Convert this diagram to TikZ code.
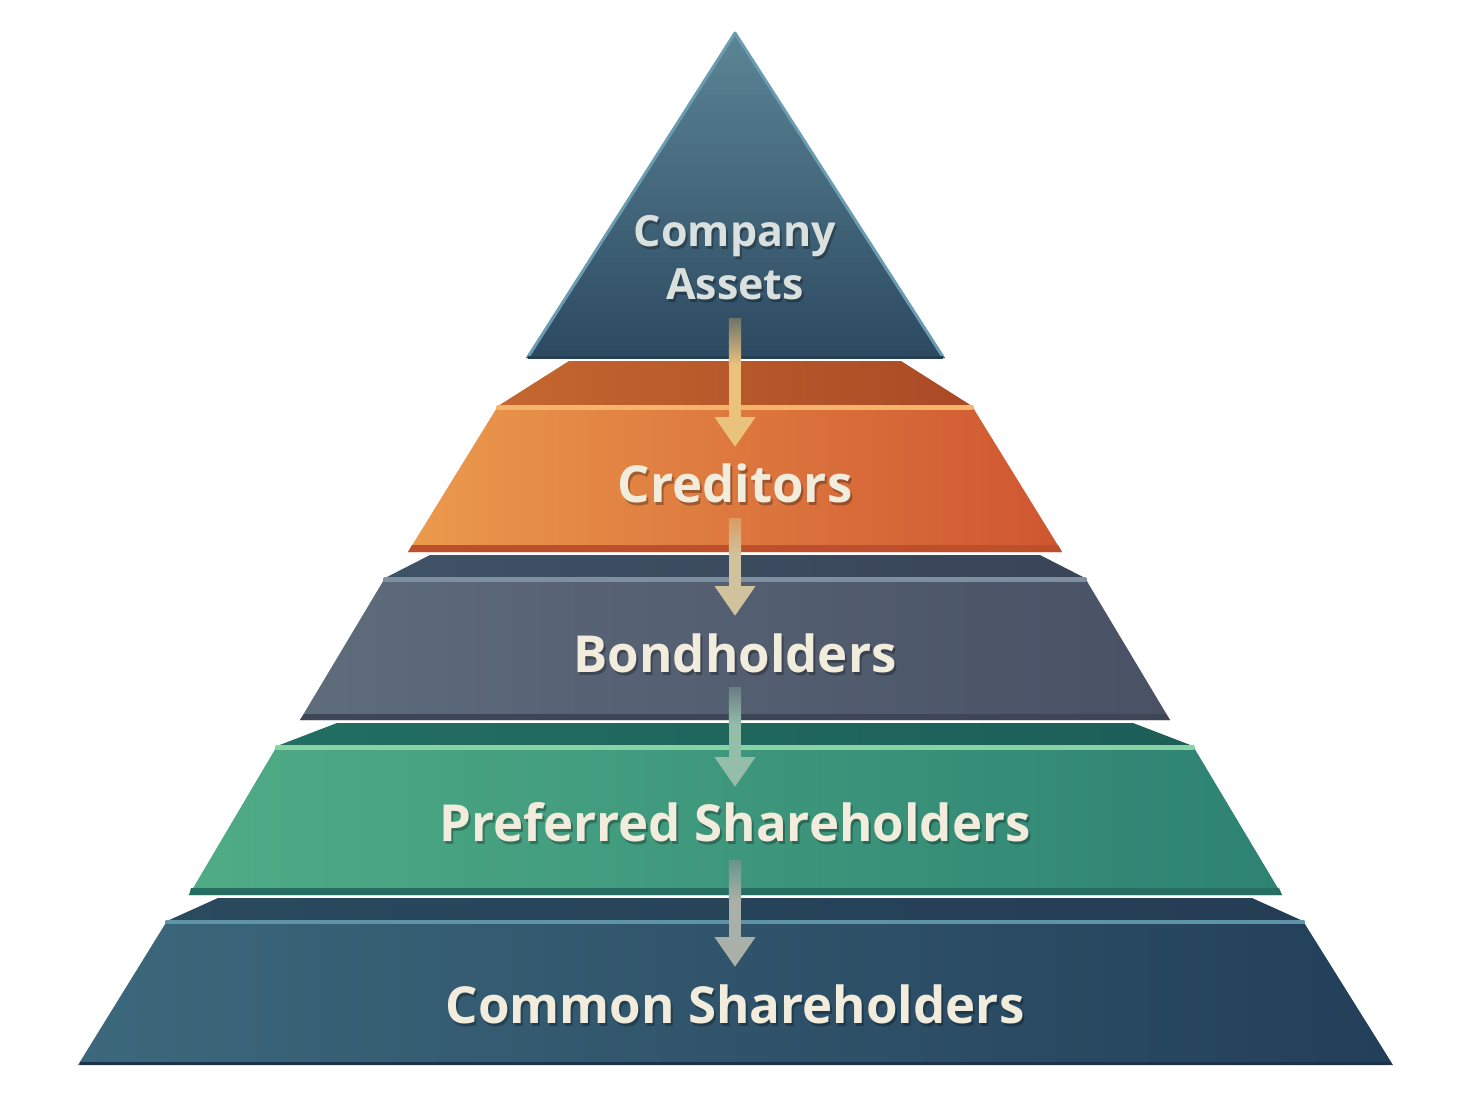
\documentclass[tikz,border=0pt]{standalone}
\usepackage{fontspec}
\setmainfont{Open Sans}
\usetikzlibrary{arrows.meta}
\definecolor{triTop}{HTML}{5B8595}
\definecolor{triBot}{HTML}{2C4961}
\definecolor{triEdge}{HTML}{6A9DB2}
\definecolor{credBackL}{HTML}{C4672F}
\definecolor{credBackR}{HTML}{A94A26}
\definecolor{credL}{HTML}{EB9A4D}
\definecolor{credR}{HTML}{CF5630}
\definecolor{credHi}{HTML}{F5B46A}
\definecolor{bondBackL}{HTML}{3E5266}
\definecolor{bondBackR}{HTML}{394457}
\definecolor{bondL}{HTML}{5E6C7C}
\definecolor{bondR}{HTML}{495165}
\definecolor{bondHi}{HTML}{7D8FA0}
\definecolor{prefBackL}{HTML}{226E62}
\definecolor{prefBackR}{HTML}{1C5F58}
\definecolor{prefL}{HTML}{4FAC86}
\definecolor{prefR}{HTML}{2D8272}
\definecolor{prefHi}{HTML}{88D2A4}
\definecolor{comBackL}{HTML}{2A4A5E}
\definecolor{comBackR}{HTML}{243D54}
\definecolor{comL}{HTML}{3C687C}
\definecolor{comR}{HTML}{233F59}
\definecolor{comHi}{HTML}{5E93A8}
\definecolor{txt}{HTML}{F2ECDC}
\definecolor{txtTop}{HTML}{D9E0DE}
\definecolor{arA}{HTML}{EAC27C}
\definecolor{arB}{HTML}{D0C29C}
\definecolor{arC}{HTML}{94BDAA}
\definecolor{arD}{HTML}{A8B0A8}
\tikzset{
  lbl/.style={text=txt, font=\bfseries\fontsize{25.5pt}{30pt}\selectfont, inner sep=0pt},
  lblshadow/.style={text=black, opacity=0.28, font=\bfseries\fontsize{25.5pt}{30pt}\selectfont, inner sep=0pt},
  toplbl/.style={text=txtTop, font=\bfseries\fontsize{21.5pt}{26.5pt}\selectfont, inner sep=0pt, align=center},
  topshadow/.style={text=black, opacity=0.28, font=\bfseries\fontsize{21.5pt}{26.5pt}\selectfont, inner sep=0pt, align=center},
  flow/.style={line width=6.2pt, -{Triangle[width=19.5pt,length=15pt]}},
  hi/.style={line width=2.2pt, line cap=round}
}
\begin{document}
\begin{tikzpicture}[x=0.5pt,y=-0.5pt]
\useasboundingbox (0,0) rectangle (1472,1104);
% ---- Common shareholders
\shade[left color=comBackL, right color=comBackR] (218,898) -- (1252,898) -- (1303,921) -- (167,921) -- cycle;
\shade[left color=comL, right color=comR] (167,921) -- (1303,921) -- (1393,1065) -- (78,1065) -- cycle;
\draw[comHi, hi] (167,922) -- (1303,922);
\draw[comR!80!black, line width=1.5pt] (80,1063) -- (1391,1063);
% ---- Preferred shareholders
\shade[left color=prefBackL, right color=prefBackR] (337,723) -- (1133,723) -- (1193,746) -- (277,746) -- cycle;
\shade[left color=prefL, right color=prefR] (277,746) -- (1193,746) -- (1282,895) -- (189,895) -- cycle;
\draw[prefHi, hi] (277,747.5) -- (1193,747.5);
\fill[prefR!85!black] (191,888) -- (1279,888) -- (1282,895) -- (189,895) -- cycle;
% ---- Bondholders
\shade[left color=bondBackL, right color=bondBackR] (430,555) -- (1040,555) -- (1085,578) -- (385,578) -- cycle;
\shade[left color=bondL, right color=bondR] (385,578) -- (1085,578) -- (1170,720) -- (300,720) -- cycle;
\draw[bondHi, hi] (385,579.5) -- (1085,579.5);
\fill[bondR!85!black] (304,714) -- (1166,714) -- (1170,720) -- (300,720) -- cycle;
% ---- Creditors
\shade[left color=credBackL, right color=credBackR] (569,361) -- (901,361) -- (972,406) -- (498,406) -- cycle;
\shade[left color=credL, right color=credR] (498,406) -- (972,406) -- (1062,552) -- (408,552) -- cycle;
\draw[credHi, hi] (498,407.5) -- (972,407.5);
\fill[credR!92!black] (412,545) -- (1058,545) -- (1062,552) -- (408,552) -- cycle;
% ---- Company assets (triangle)
\shade[top color=triTop, bottom color=triBot] (735,32) -- (945,358) -- (526,358) -- cycle;
\draw[triEdge, line width=1.5pt, line join=round] (528,357) -- (735,33) -- (943,357);
\draw[triBot!85!black, line width=1.5pt] (528,357) -- (943,357);
% ---- labels (soft shadow + text)
\node[topshadow] at (737,261) {Company\\Assets};
\node[toplbl] (assets) at (735,258) {Company\\Assets};
\node[lblshadow] at (737,486) {Creditors};
\node[lbl] (cred) at (735,483) {Creditors};
\node[lblshadow] at (737,656) {Bondholders};
\node[lbl] (bond) at (735,653) {Bondholders};
\node[lblshadow] at (737,825) {Preferred Shareholders};
\node[lbl] (pref) at (735,822) {Preferred Shareholders};
\node[lblshadow] at (737,1007) {Common Shareholders};
\node[lbl] (com) at (735,1004) {Common Shareholders};
% ---- flow arrows
\coordinate (a1s) at (735,318); \coordinate (a1e) at (735,447);
\coordinate (a2s) at (735,518); \coordinate (a2e) at (735,616);
\coordinate (a3s) at (735,687); \coordinate (a3e) at (735,787);
\coordinate (a4s) at (735,860); \coordinate (a4e) at (735,967);
\draw[flow, arA] (a1s) -- (a1e);
\draw[flow, arB] (a2s) -- (a2e);
\draw[flow, arC] (a3s) -- (a3e);
\draw[flow, arD] (a4s) -- (a4e);
% fade of the shafts' upper ends
\shade[top color=arA!35!triBot, bottom color=arA] (728.8,318) rectangle (741.2,365);
\shade[top color=arB!45!credL!80!credR, bottom color=arB] (728.8,518) rectangle (741.2,555);
\shade[top color=arC!45!bondL!70!bondR, bottom color=arC] (728.8,687) rectangle (741.2,725);
\shade[top color=arD!45!prefR, bottom color=arD] (728.8,860) rectangle (741.2,900);
\end{tikzpicture}
\end{document}
